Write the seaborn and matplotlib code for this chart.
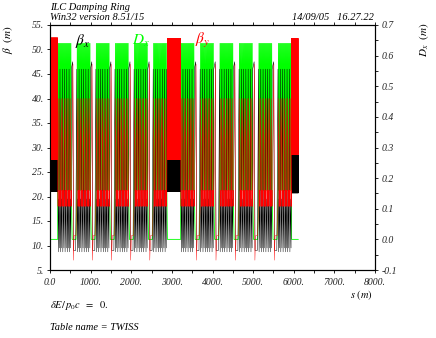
import numpy as np
import pandas as pd
import matplotlib
matplotlib.use("Agg")
import matplotlib.pyplot as plt
import seaborn as sns
from matplotlib.ticker import FixedLocator

sns.set_theme(style="white")
plt.rcParams['font.family'] = ['Liberation Serif', 'DejaVu Serif']
plt.rcParams['mathtext.fontset'] = 'stix'

# ---------------- data ----------------
# lattice layout in metres
straight_spans = [(0.0, 190.0), (2890.0, 3217.0), (5947.0, 6114.0)]
arc1_block_starts = [190.0, 660.0, 1130.0, 1600.0, 2070.0, 2540.0]
arc2_block_starts = [3217.0, 3696.0, 4175.0, 4654.0, 5133.0, 5612.0]
block_length = 335.0
cells_per_block_betx = 6
cells_per_block_bety = 9
cells_per_block_disp = 14
straight_cell_length = 8.0

# one arc cell (fraction of cell, value)
betx_cell_frac = [0.0, 0.25, 0.5, 0.75, 1.0]
betx_arc_cell = [46.0, 8.7, 19.5, 9.5, 46.0]
bety_cell_frac = [0.0, 0.4, 0.75, 0.88, 1.0]
bety_arc_cell = [18.0, 40.0, 18.0, 21.3, 18.0]
dx_cell_frac = [0.0, 0.5, 1.0]
dx_arc_cell = [0.16, 0.64, 0.16]

# gap between arc blocks (fraction of gap, value)
gap_frac_betx = [0.0, 0.25, 0.4, 0.8, 1.0]
betx_gap = [46.0, 47.5, 9.0, 9.0, 46.0]
gap_frac_bety = [0.0, 0.3, 0.38, 0.5, 0.85, 1.0]
bety_gap = [18.0, 47.0, 7.0, 12.0, 12.0, 18.0]
gap_frac_dx = [0.0, 0.15, 0.85, 1.0]
dx_gap = [0.16, 0.0, 0.0, 0.16]

# straights: low / high beta per straight
straight_betx_lo = [21.0, 21.0, 20.7]
straight_betx_hi = [27.4, 27.4, 28.5]
straight_bety_lo = [27.5, 27.5, 28.5]
straight_bety_hi = [52.4, 52.3, 52.3]
straight_dx = 0.0

x_ticks = [0, 1000, 2000, 3000, 4000, 5000, 6000, 7000, 8000]
x_tick_labels = ["0.0", "1000.", "2000.", "3000.", "4000.", "5000.", "6000.", "7000.", "8000."]
y_ticks = [5, 10, 15, 20, 25, 30, 35, 40, 45, 50, 55]
y2_ticks = [-0.1, 0.0, 0.1, 0.2, 0.3, 0.4, 0.5, 0.6, 0.7]


# ---------------- build the optics lines ----------------
def tile(s0, s1, n, frac, vals):
    cell = (s1 - s0) / n
    xs, ys = [], []
    for k in range(n):
        for f, v in zip(frac, vals):
            if k > 0 and f == 0.0:
                continue
            xs.append(s0 + (k + f) * cell)
            ys.append(v)
    return xs, ys


def build(kind):
    xs, ys = [], []

    def add(a, b):
        xs.extend(a)
        ys.extend(b)

    def straight(i):
        s0, s1 = straight_spans[i]
        n = max(1, int(round((s1 - s0) / straight_cell_length)))
        if kind == "bx":
            add(*tile(s0, s1, n, [0.0, 0.5, 1.0],
                      [straight_betx_lo[i], straight_betx_hi[i], straight_betx_lo[i]]))
        elif kind == "by":
            add(*tile(s0, s1, n, [0.0, 0.5, 1.0],
                      [straight_bety_hi[i], straight_bety_lo[i], straight_bety_hi[i]]))
        else:
            add([s0, s1], [straight_dx, straight_dx])

    def arc(starts):
        for j, b0 in enumerate(starts):
            b1 = b0 + block_length
            if kind == "bx":
                add(*tile(b0, b1, cells_per_block_betx, betx_cell_frac, betx_arc_cell))
            elif kind == "by":
                add(*tile(b0, b1, cells_per_block_bety, bety_cell_frac, bety_arc_cell))
            else:
                add(*tile(b0, b1, cells_per_block_disp, dx_cell_frac, dx_arc_cell))
            if j < len(starts) - 1:
                g1 = starts[j + 1]
                if kind == "bx":
                    add(*tile(b1, g1, 1, gap_frac_betx, betx_gap))
                elif kind == "by":
                    add(*tile(b1, g1, 1, gap_frac_bety, bety_gap))
                else:
                    add(*tile(b1, g1, 1, gap_frac_dx, dx_gap))

    straight(0)
    arc(arc1_block_starts)
    straight(1)
    arc(arc2_block_starts)
    straight(2)
    return pd.DataFrame({"s": xs, "v": ys})


df_bx = build("bx")
df_by = build("by")
df_dx = build("dx")

# ---------------- figure ----------------
W, H = 436, 338
fig = plt.figure(figsize=(W / 100, H / 100), dpi=100)
fig.patch.set_facecolor("white")
L, R, T, B = 50, 375, 25, 270
ax = fig.add_axes([L / W, 1 - B / H, (R - L) / W, (B - T) / H])
ax2 = ax.twinx()
# dispersion drawn underneath the beta functions
ax.set_zorder(ax2.get_zorder() + 1)
ax.patch.set_visible(False)
ax2.set_facecolor("white")

sns.lineplot(data=df_dx, x="s", y="v", ax=ax2, color="#00ff00", lw=0.6,
             sort=False, estimator=None)
ax2.set_ylim(-0.1, 0.7)
ax2.set_xlim(0, 8000)

sns.lineplot(data=df_bx, x="s", y="v", ax=ax, color="black", lw=0.35,
             sort=False, estimator=None)
sns.lineplot(data=df_by, x="s", y="v", ax=ax, color="#ff0000", lw=0.3,
             sort=False, estimator=None)
ax.set_xlim(0, 8000)
ax.set_ylim(5, 55)

for a in (ax, ax2):
    a.set_xlabel("")
    a.set_ylabel("")
    for sp in a.spines.values():
        sp.set_visible(True)
        sp.set_color("black")
        sp.set_linewidth(0.8)
    a.grid(False)

tick_font = dict(family="Liberation Serif", style="italic", size=7)

ax.xaxis.set_major_locator(FixedLocator(x_ticks))
ax.xaxis.set_minor_locator(FixedLocator([500 + 1000 * i for i in range(8)]))
ax.set_xticklabels(x_tick_labels, fontdict=tick_font)
ax.yaxis.set_major_locator(FixedLocator(y_ticks))
ax.set_yticklabels([f"{t}." for t in y_ticks], fontdict=tick_font)
ax.tick_params(axis="x", which="both", direction="out", bottom=True, top=True,
               length=2.5, width=0.6, color="black", pad=3)
ax.tick_params(axis="y", which="both", direction="out", left=True, right=False,
               length=2.5, width=0.6, color="black", pad=2)

ax2.yaxis.set_major_locator(FixedLocator(y2_ticks))
ax2.yaxis.set_minor_locator(FixedLocator([-0.05 + 0.1 * i for i in range(8)]))
ax2.set_yticklabels([f"{t:.1f}" for t in y2_ticks], fontdict=tick_font)
ax2.tick_params(axis="y", which="both", direction="out", right=True, length=2.5,
                width=0.6, color="black", pad=2)

# curve labels (data coordinates of the beta axis)
ax.text(620, 51.8, r"$\beta_x$", color="black", fontsize=11, ha="left", va="center")
ax.text(2030, 51.8, r"$D_x$", color="#00ff00", fontsize=11, ha="left", va="center")
ax.text(3570, 51.8, r"$\beta_y$", color="#ff0000", fontsize=11, ha="left", va="center")

# axis titles
fig.text(8 / W, 1 - 40 / H, r"$\beta$  $(m)$", rotation=90, ha="center", va="center",
         fontsize=8, color="black")
fig.text(424 / W, 1 - 40 / H, r"$D_x$  $(m)$", rotation=90, ha="center", va="center",
         fontsize=8, color="black")
fig.text(373 / W, 1 - 295 / H, r"$s$ $(m)$", ha="right", va="center", fontsize=7.5,
         color="black")

# header / footer
hdr = dict(family="Liberation Serif", style="italic", size=7.5, color="black")
fig.text(50 / W, 1 - 8 / H, "ILC Damping Ring", ha="left", va="center", **hdr)
fig.text(50 / W, 1 - 18 / H, "Win32 version 8.51/15", ha="left", va="center", **hdr)
fig.text(374 / W, 1 - 18 / H, "14/09/05   16.27.22", ha="right", va="center", **hdr)
fig.text(50 / W, 1 - 306 / H, r"$\delta E/\, p_0c\ \ =\ \ 0.$", ha="left", va="center",
         fontsize=7.5, color="black")
fig.text(50 / W, 1 - 328 / H, "Table name = TWISS", ha="left", va="center", **hdr)

fig.savefig("out.png", dpi=100, facecolor="white")
